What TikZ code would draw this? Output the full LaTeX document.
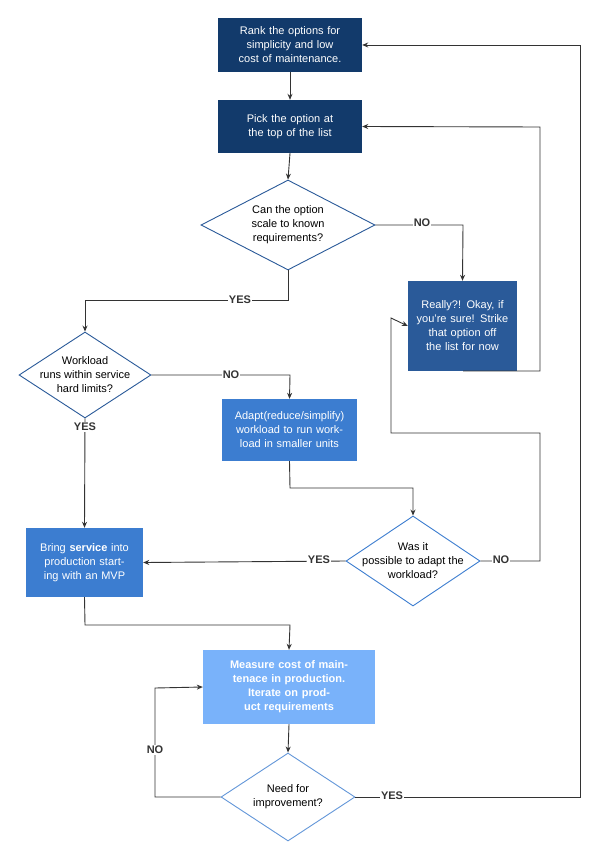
\documentclass[tikz,border=0pt]{standalone}
\usepackage{fontspec}
\setmainfont{Liberation Sans}
\usetikzlibrary{shapes.geometric,arrows.meta}
\definecolor{navy}{HTML}{123A6B}
\definecolor{mid}{HTML}{2A5A99}
\definecolor{bl}{HTML}{3C7DD0}
\definecolor{lbl}{HTML}{79B2FA}
\definecolor{dline}{HTML}{333333}
\begin{document}
\begin{tikzpicture}[x=1pt,y=-1pt,
  box/.style={draw=none,text=white,align=center,font=\fontsize{11}{14}\selectfont,inner sep=2pt},
  dia/.style={diamond,draw,fill=white,align=center,font=\fontsize{11}{14}\selectfont,inner sep=0pt,line width=0.9pt},
  ln/.style={draw=dline,line width=0.9pt,-{Stealth[length=6pt,width=5pt]}},
  lab/.style={fill=white,font=\bfseries\fontsize{11}{13}\selectfont,text=dline,inner sep=1pt}]
\useasboundingbox[fill=white] (0,0) rectangle (600,861);
\node[box,fill=navy,minimum width=144pt,minimum height=54pt,text width=135pt] (A) at (290,45) {Rank the options for simplicity and low cost of maintenance.};
\node[box,fill=navy,minimum width=144pt,minimum height=53pt,text width=135pt] (B) at (290,126.5) {Pick the option at the top of the list};
\node[dia,draw=mid,minimum width=174pt,minimum height=88pt,text width=90pt] (D1) at (288,225) {};
\node[align=center,font=\fontsize{11}{14}\selectfont] at (288,225) {Can the option\\scale to known\\requirements?};
\node[box,fill=mid,minimum width=109pt,minimum height=90pt,text width=105pt] (R) at (462.5,326) {Really?! Okay, if you're sure! Strike that option off the list for now};
\node[dia,draw=mid,minimum width=132pt,minimum height=86pt] (D2) at (85,375) {};
\node[align=center,font=\fontsize{11}{14}\selectfont] at (85,375) {Workload\\runs within service\\hard limits?};
\node[box,fill=bl,minimum width=135pt,minimum height=62pt,text width=125pt] (C) at (289.5,430) {Adapt(reduce/simplify) workload to run workload in smaller units};
\node[dia,draw=bl,minimum width=134pt,minimum height=90pt] (D3) at (413,561) {};
\node[align=center,font=\fontsize{11}{14}\selectfont] at (413,561) {Was it\\possible to adapt the\\workload?};
\node[box,fill=bl,minimum width=117pt,minimum height=69pt,text width=112pt] (S) at (84.5,562.5) {Bring \textbf{service} into production starting with an MVP};
\node[box,fill=lbl,minimum width=172pt,minimum height=74pt,text width=160pt,font=\bfseries\fontsize{11}{14}\selectfont] (M) at (289,687) {Measure cost of maintenace in production.\\Iterate on product requirements};
\node[dia,draw=bl!80!white,minimum width=134pt,minimum height=88pt] (D4) at (288,797) {};
\node[align=center,font=\fontsize{11}{14}\selectfont] at (288,797) {Need for\\improvement?};
\draw[ln] (A.south) -- (B.north);
\draw[ln] (B.south) -- (D1.north);
\draw[ln] (D1.east) -- (463,225) -- (R.north);
\node[lab] at (422,223) {NO};
\draw[ln] (D1.south) -- (288,300) -- (85,300) -- (D2.north);
\node[lab] at (240,300) {YES};
\draw[ln] (463,371) -- (463,371) -- (540,371) -- (540,127) -- (B.east);
\draw[ln] (D2.east) -- (290,375) -- (C.north);
\node[lab] at (231,375) {NO};
\draw[ln] (D2.south) -- (S.north);
\node[lab] at (85,427) {YES};
\draw[ln] (C.south) -- (290,488) -- (413,488) -- (D3.north);
\draw[ln] (D3.west) -- (S.east);
\node[lab] at (319,560) {YES};
\draw[ln] (D3.east) -- (540,561) -- (540,433) -- (391,433) -- (391,318) -- (R.west);
\node[lab] at (501,560) {NO};
\draw[ln] (S.south) -- (85,625) -- (290,625) -- (M.north);
\draw[ln] (M.south) -- (D4.north);
\draw[ln] (D4.west) -- (155,797) -- (155,688) -- (M.west);
\node[lab] at (155,750) {NO};
\draw[ln] (D4.east) -- (580,797) -- (580,45) -- (A.east);
\node[lab] at (392,796) {YES};
\end{tikzpicture}
\end{document}
